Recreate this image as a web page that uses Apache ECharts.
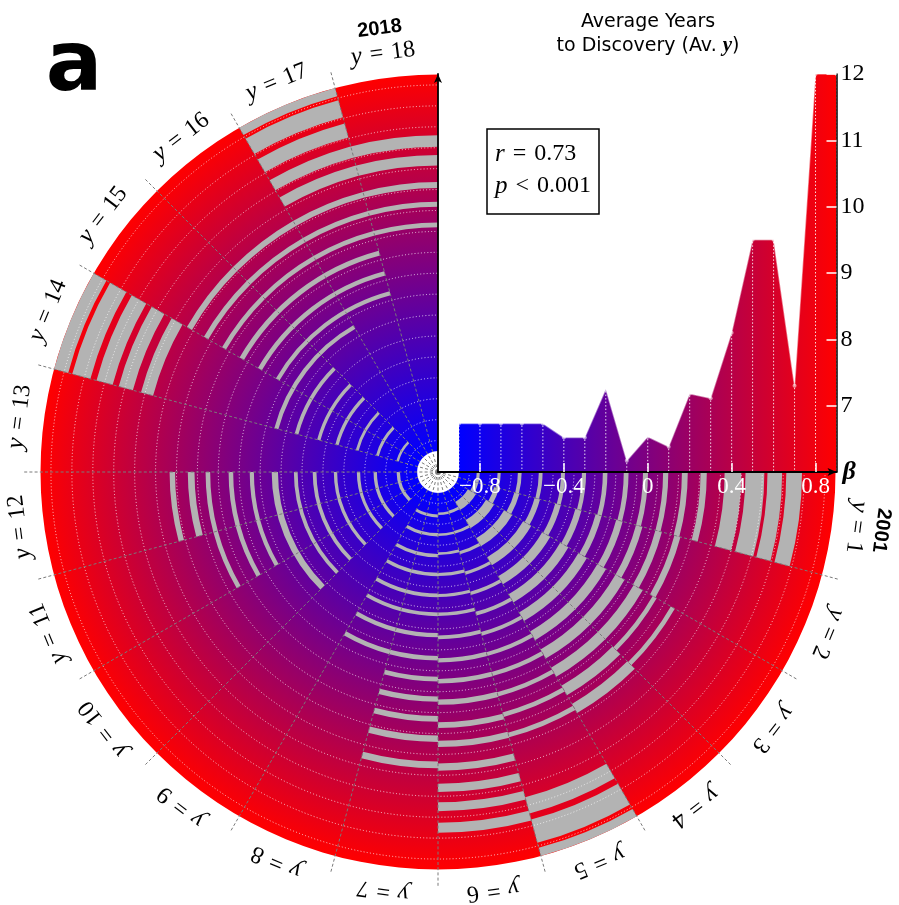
<!DOCTYPE html>
<html>
<head>
<meta charset="utf-8">
<script src="https://cdn.jsdelivr.net/npm/echarts@6/dist/echarts.min.js"></script>
<style>
html,body{margin:0;padding:0;background:#fff;}
#c{width:899px;height:905px;}
</style>
</head>
<body>
<div id="c"></div>
<script>
// ---------------- data ----------------
// years-to-discovery sectors (y = 1 ... 18), clockwise from the beta axis
const sectorYears = [1,2,3,4,5,6,7,8,9,10,11,12,13,14,15,16,17,18];
const sectorLabels = ['1','2','3','4','5','6','7','8','9','10','11','12','13','14','15','16','17','18'];
const yearSectors = [1, 18];
const yearTexts = ['2001', '2018'];

// colored rings span beta -0.9 .. 0.9 over sectors 1..18
const coloredBand = [[1, 18, -0.9, 0.9]];

// grey arcs: [first sector, last sector, beta start, beta end]
const grayArcs = [
  [1,1,-0.815,-0.800],[1,1,-0.715,-0.700],[1,1,-0.618,-0.600],[1,1,-0.518,-0.500],[1,1,-0.412,-0.393],
  [1,1,-0.312,-0.292],[1,1,-0.212,-0.190],[1,1,-0.112,-0.089],[1,1,-0.020,0.004],[1,1,0.076,0.101],
  [1,1,0.166,0.194],[1,1,0.255,0.285],[1,1,0.370,0.450],[1,1,0.470,0.560],[1,1,0.575,0.645],[1,1,0.665,0.740],
  [2,2,-0.822,-0.800],[2,2,-0.722,-0.698],[2,2,-0.622,-0.597],[2,2,-0.522,-0.495],[2,2,-0.420,-0.392],
  [2,2,-0.320,-0.290],[2,2,-0.220,-0.190],[2,2,-0.118,-0.086],[2,2,-0.020,0.012],[2,2,0.076,0.108],[2,2,0.170,0.200],
  [3,4,-0.835,-0.790],[3,4,-0.735,-0.690],[3,4,-0.635,-0.590],[3,4,-0.530,-0.485],[3,4,-0.425,-0.380],
  [3,4,-0.325,-0.280],[3,4,-0.225,-0.178],[3,4,-0.120,-0.072],[3,4,-0.020,0.030],[3,4,0.080,0.130],
  [4,4,0.180,0.232],[4,4,0.280,0.330],[3,3,0.185,0.207],[3,3,0.285,0.307],
  [5,5,-0.808,-0.794],[5,5,-0.708,-0.694],[5,5,-0.608,-0.593],[5,5,-0.508,-0.492],[5,5,-0.408,-0.391],
  [5,5,-0.308,-0.290],[5,5,-0.208,-0.190],[5,5,-0.108,-0.089],[5,5,-0.010,0.010],[5,5,0.090,0.111],
  [5,5,0.190,0.212],[5,5,0.290,0.313],[5,5,0.610,0.690],[5,5,0.720,0.835],[5,5,0.860,0.900],
  [6,6,-0.806,-0.794],[6,6,-0.706,-0.694],[6,6,-0.617,-0.603],[6,6,-0.517,-0.503],[6,6,-0.417,-0.402],
  [6,6,-0.328,-0.312],[6,6,-0.219,-0.201],[6,6,-0.110,-0.090],[6,6,-0.011,0.011],[6,6,0.088,0.113],
  [6,6,0.196,0.224],[6,6,0.285,0.315],[6,6,0.393,0.428],[6,6,0.490,0.530],[6,6,0.579,0.621],[6,6,0.676,0.724],
  [7,8,-0.797,-0.783],[7,8,-0.708,-0.692],[7,8,-0.608,-0.592],[7,8,-0.518,-0.502],[7,8,-0.419,-0.401],
  [7,8,-0.329,-0.311],[7,8,-0.230,-0.210],[7,8,-0.121,-0.099],
  [7,7,-0.021,0.001],[7,7,0.073,0.098],[7,7,0.166,0.194],[7,7,0.260,0.290],[7,7,0.384,0.416],
  [10,12,-0.818,-0.802],[10,12,-0.708,-0.692],[10,12,-0.628,-0.612],[10,12,-0.518,-0.502],[10,12,-0.419,-0.401],
  [10,12,-0.329,-0.311],[10,12,-0.235,-0.205],
  [11,12,-0.120,-0.100],[11,12,-0.021,0.001],[11,12,0.089,0.111],
  [12,12,0.164,0.196],[12,12,0.257,0.283],
  [14,15,-0.806,-0.794],[14,15,-0.707,-0.693],[14,15,-0.607,-0.593],[14,15,-0.508,-0.492],[14,15,-0.418,-0.402],
  [14,15,-0.309,-0.291],[14,16,-0.210,-0.190],
  [15,17,-0.125,-0.105],[15,17,-0.028,-0.006],[15,17,0.071,0.095],
  [15,18,0.170,0.192],[15,18,0.268,0.292],[15,18,0.358,0.386],
  [14,14,0.410,0.470],[14,14,0.510,0.580],[14,14,0.610,0.690],[14,14,0.720,0.810],[14,14,0.830,0.900],
  [17,18,0.465,0.515],[17,18,0.555,0.610],[17,17,0.655,0.725],[17,17,0.755,0.840],[17,17,0.860,0.900]
];

// dotted ring grid (beta values)
const ringGridBetas = [-0.85,-0.75,-0.65,-0.55,-0.45,-0.35,-0.25,-0.15,-0.05,0.05,0.15,0.25,0.35,0.45,0.55,0.65,0.75,0.85];
// dashed sector separators (boundaries between sectors)
const separatorSectors = [1,2,3,4,5,6,7,8,9,10,11,12,13,14,15,16,17];

// average years to discovery vs beta
const betaValues = [-0.9,-0.8,-0.7,-0.6,-0.5,-0.4,-0.3,-0.2,-0.1,0,0.1,0.2,0.3,0.4,0.5,0.6,0.7,0.8,0.9];
const avgYears   = [6.73,6.73,6.73,6.73,6.73,6.52,6.52,7.25,6.17,6.53,6.38,7.18,7.11,8.10,9.50,9.50,7.30,12.0,12.0];

const xTickValues = [-0.8,-0.4,0,0.4,0.8];
const yTickValues = [7,8,9,10,11,12];

// ---------------- styling constants ----------------
const BLUE = '#0000ff', RED = '#ff0000', GREY = '#b3b3b3';
const SERIF = '"Liberation Serif", "DejaVu Serif", serif';
const SANS = '"DejaVu Sans", sans-serif';
const SP = '\u2004';
const LABEL_BETA = 1.017;     // radial position of "y = n" labels
const YEAR_BETA = 1.137;      // radial position of year labels
const SEP_OUTER_BETA = 0.985; // separators run slightly past the rim

function geom(params, api, beta, v) {
  const p = api.coord([beta, v]);
  const cx = params.coordSys.cx, cy = params.coordSys.cy;
  return {x: p[0], y: p[1], cx: cx, cy: cy,
          r: Math.hypot(p[0] - cx, p[1] - cy),
          a: Math.atan2(p[1] - cy, p[0] - cx)};
}

function bandRenderer(fillFn) {
  return function (params, api) {
    const s0 = api.value(0) - 1, s1 = api.value(1), b0 = api.value(2), b1 = api.value(3);
    const g0 = geom(params, api, b1, s0);
    const g1 = geom(params, api, b1, s1);
    const gi = geom(params, api, b0, s0);
    let a0 = g0.a, a1 = g1.a;
    while (a1 <= a0 + 1e-6) a1 += Math.PI * 2;
    return {
      type: 'sector',
      shape: {cx: g0.cx, cy: g0.cy, r0: gi.r, r: g0.r, startAngle: a0, endAngle: a1, clockwise: true},
      style: {fill: fillFn(params, api, g0, gi)}
    };
  };
}

const gradientFill = function (params, api, gOuter, gInner) {
  return {
    type: 'radial', x: gOuter.cx, y: gOuter.cy, r: gOuter.r, global: true,
    colorStops: [{offset: gInner.r / gOuter.r, color: BLUE}, {offset: 1, color: RED}]
  };
};

function labelRenderer(texts, beta, styleFn) {
  return function (params, api) {
    const v = api.value(0) - 0.5;
    const g = geom(params, api, beta, v);
    const mathAngle = Math.atan2(-(g.y - g.cy), g.x - g.cx);
    return {
      type: 'text', x: g.x, y: g.y, rotation: mathAngle - Math.PI / 2,
      style: styleFn(texts[params.dataIndex])
    };
  };
}

const option = {
  animation: false,
  backgroundColor: '#ffffff',
  polar: {center: [438, 472], radius: [0, 397.5]},
  angleAxis: {type: 'value', min: 0, max: 24, startAngle: 0, clockwise: true, show: false},
  radiusAxis: {type: 'value', min: -1, max: 0.9, show: false},
  grid: {left: 438, top: 74, width: 398.5, height: 398, outerBoundsMode: 'none', containLabel: false},
  xAxis: {
    type: 'value', min: -1, max: 0.9, z: 10,
    axisLine: {show: true, onZero: false, lineStyle: {color: '#000', width: 1.8},
               symbol: ['none', 'arrow'], symbolSize: [6, 9]},
    axisTick: {show: true, inside: true, length: 9, customValues: xTickValues,
               lineStyle: {color: '#fff', width: 1.5}},
    axisLabel: {show: true, customValues: xTickValues, margin: 3, color: '#fff',
                fontFamily: SERIF, fontSize: 23,
                formatter: function (v) { return v < 0 ? '\u2212' + Math.abs(v) : String(v); }},
    splitLine: {show: false},
    name: 'β', nameLocation: 'end', nameGap: 6,
    nameTextStyle: {fontFamily: SERIF, fontStyle: 'italic', fontWeight: 'bold', fontSize: 26, color: '#000',
                    verticalAlign: 'middle', align: 'left'}
  },
  yAxis: [
    {
      type: 'value', min: 6, max: 12, position: 'right', z: 10,
      axisLine: {show: true, onZero: false, lineStyle: {color: '#000', width: 1.5}},
      axisTick: {show: true, inside: true, length: 10, customValues: yTickValues,
                 lineStyle: {color: '#fff', width: 1.5}},
      axisLabel: {show: true, customValues: yTickValues, margin: 4, color: '#000',
                  fontFamily: SERIF, fontSize: 24},
      splitLine: {show: false}
    },
    {
      type: 'value', min: 6, max: 12, position: 'left', z: 10,
      axisLine: {show: true, onZero: false, lineStyle: {color: '#000', width: 1.8},
                 symbol: ['none', 'arrow'], symbolSize: [6, 9]},
      axisTick: {show: false}, axisLabel: {show: false}, splitLine: {show: false}
    }
  ],
  series: [
    { // coloured rings
      type: 'custom', coordinateSystem: 'polar', z: 1, silent: true,
      data: coloredBand, renderItem: bandRenderer(gradientFill)
    },
    { // grey arcs
      type: 'custom', coordinateSystem: 'polar', z: 2, silent: true,
      data: grayArcs, renderItem: bandRenderer(function () { return GREY; })
    },
    { // dotted white ring grid
      type: 'custom', coordinateSystem: 'polar', z: 3, silent: true,
      data: ringGridBetas.map(function (b) { return [b]; }),
      renderItem: function (params, api) {
        const b = api.value(0);
        const g0 = geom(params, api, b, 0), g1 = geom(params, api, b, sectorYears.length);
        let a0 = g0.a, a1 = g1.a;
        while (a1 <= a0 + 1e-6) a1 += Math.PI * 2;
        return {type: 'arc', shape: {cx: g0.cx, cy: g0.cy, r: g0.r, startAngle: a0, endAngle: a1, clockwise: true},
                style: {stroke: 'rgba(255,255,255,0.75)', fill: null, lineWidth: 1, lineDash: [1, 2.2]}};
      }
    },
    { // dashed sector separators
      type: 'custom', coordinateSystem: 'polar', z: 4, silent: true,
      data: separatorSectors.map(function (s) { return [s]; }),
      renderItem: function (params, api) {
        const v = api.value(0);
        const p0 = api.coord([-1, v]), p1 = api.coord([SEP_OUTER_BETA, v]);
        return {type: 'line', shape: {x1: p0[0], y1: p0[1], x2: p1[0], y2: p1[1]},
                style: {stroke: '#7a7a7a', lineWidth: 1, lineDash: [3, 2.2]}};
      }
    },
    { // sector labels y = n
      type: 'custom', coordinateSystem: 'polar', z: 5, silent: true,
      data: sectorYears.map(function (s) { return [s]; }),
      renderItem: labelRenderer(sectorLabels, LABEL_BETA, function (t) {
        return {text: '{i|y}' + SP + '=' + SP + t, fill: '#000', fontFamily: SERIF, fontSize: 24,
                align: 'center', verticalAlign: 'middle',
                rich: {i: {fontFamily: SERIF, fontSize: 25, fontStyle: 'italic', fill: '#000'}}};
      })
    },
    { // year labels
      type: 'custom', coordinateSystem: 'polar', z: 5, silent: true,
      data: yearSectors.map(function (s) { return [s]; }),
      renderItem: labelRenderer(yearTexts, YEAR_BETA, function (t) {
        return {text: t, fill: '#000', fontFamily: '"Liberation Sans", sans-serif', fontWeight: 'bold',
                fontSize: 20, align: 'center', verticalAlign: 'middle'};
      })
    },
    { // average years area
      type: 'line', xAxisIndex: 0, yAxisIndex: 0, z: 5, silent: true,
      data: betaValues.map(function (b, i) { return [b, avgYears[i]]; }),
      symbol: 'circle', symbolSize: 4, showSymbol: true,
      itemStyle: {color: 'rgba(255,255,255,0.55)', borderWidth: 0},
      lineStyle: {color: 'rgba(255,255,255,0.45)', width: 1.5},
      areaStyle: {opacity: 1, color: {type: 'linear', x: 0, y: 0, x2: 1, y2: 0,
                  colorStops: [{offset: 0, color: BLUE}, {offset: 1, color: RED}]}}
    },
    { // dotted drop lines
      type: 'custom', coordinateSystem: 'cartesian2d', xAxisIndex: 0, yAxisIndex: 0, z: 6, silent: true,
      data: betaValues.map(function (b, i) { return [b, avgYears[i]]; }),
      renderItem: function (params, api) {
        const top = api.coord([api.value(0), api.value(1)]);
        const bot = api.coord([api.value(0), 6]);
        return {type: 'line', shape: {x1: top[0], y1: top[1] + 2, x2: bot[0], y2: bot[1]},
                style: {stroke: 'rgba(255,255,255,0.85)', lineWidth: 1, lineDash: [1.5, 2]}};
      }
    }
  ],
  graphic: [
    {type: 'text', x: 74, y: 68, z: 100,
     style: {text: 'a', fontFamily: SANS, fontWeight: 'bold', fontSize: 84, fill: '#000',
             align: 'center', verticalAlign: 'middle'}},
    {type: 'text', x: 648, y: 34, z: 100,
     style: {text: 'Average Years\nto Discovery (Av. {b|y})', fontFamily: SANS, fontSize: 19, fill: '#000',
             lineHeight: 24, align: 'center', verticalAlign: 'middle',
             rich: {b: {fontFamily: SERIF, fontStyle: 'italic', fontWeight: 'bold', fontSize: 21, lineHeight: 24, fill: '#000'}}}},
    {type: 'rect', z: 100, shape: {x: 487, y: 129, width: 112, height: 85},
     style: {fill: '#fff', stroke: '#000', lineWidth: 1.5}},
    {type: 'text', x: 495, y: 170, z: 101,
     style: {text: '{i|r}' + SP + '=' + SP + '0.73\n{i|p}' + SP + '<' + SP + '0.001', fontFamily: SERIF, fontSize: 24, fill: '#000',
             lineHeight: 32, align: 'left', verticalAlign: 'middle',
             rich: {i: {fontFamily: SERIF, fontStyle: 'italic', fontSize: 25, lineHeight: 32, fill: '#000'}}}}
  ]
};

const chart = echarts.init(document.getElementById('c'), null, {renderer: 'canvas', width: 899, height: 905});
chart.setOption(option);
</script>
</body>
</html>
